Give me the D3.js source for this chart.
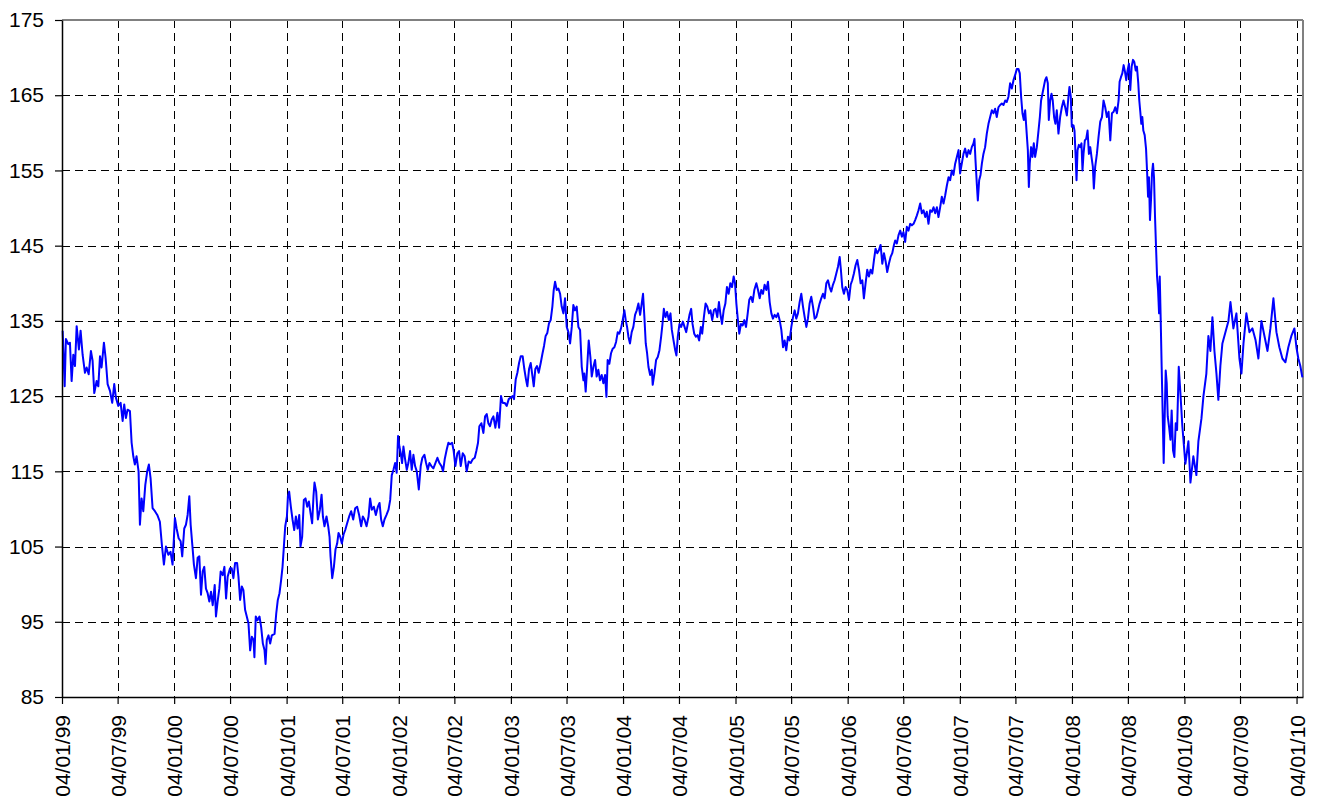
<!DOCTYPE html>
<html>
<head>
<meta charset="utf-8">
<script src="https://cdn.jsdelivr.net/npm/d3@7/dist/d3.min.js"></script>
<style>
  html, body { margin: 0; padding: 0; background: #ffffff; }
  svg { display: block; }
  text { font-family: "Liberation Sans", Arial, sans-serif; }
</style>
</head>
<body>
<svg id="chart" width="1317" height="805"></svg>
<script>
// ---- DATA (decimal years) ----
const timePoints = [
1999.014,1999.032,1999.043,1999.064,1999.079,1999.094,1999.109,1999.124,1999.139,1999.159,1999.174,1999.192,1999.213,1999.228,1999.246,1999.266,1999.281,1999.296,1999.317,1999.332,1999.347,1999.361,1999.382,1999.397,1999.415,1999.436,1999.456,1999.474,1999.489,1999.510,1999.531,1999.549,1999.563,1999.578,1999.593,1999.614,1999.629,1999.644,1999.658,1999.673,1999.691,1999.703,1999.718,1999.733,1999.751,1999.768,1999.783,1999.798,1999.816,1999.837,1999.858,1999.881,1999.899,1999.917,1999.935,1999.956,1999.976,1999.994,
2000.015,2000.030,2000.048,2000.066,2000.080,2000.098,2000.113,2000.128,2000.143,2000.155,2000.170,2000.184,2000.202,2000.217,2000.232,2000.247,2000.262,2000.276,2000.291,2000.306,2000.321,2000.336,2000.351,2000.369,2000.380,2000.395,2000.410,2000.422,2000.440,2000.455,2000.470,2000.484,2000.505,2000.520,2000.535,
2000.550,2000.568,2000.580,2000.595,2000.610,2000.624,2000.639,2000.654,2000.669,2000.684,2000.699,2000.714,2000.722,2000.734,2000.749,2000.767,2000.782,2000.797,2000.812,2000.821,2000.832,2000.847,2000.862,2000.877,2000.901,2000.916,2000.930,2000.945,2000.960,2000.972,2000.984,2000.996,
2001.011,2001.020,2001.031,2001.046,2001.061,2001.076,2001.091,2001.106,2001.121,2001.132,2001.147,2001.162,2001.177,2001.192,2001.207,2001.222,2001.236,2001.248,2001.257,2001.272,2001.287,2001.305,2001.320,2001.332,2001.346,2001.364,2001.379,2001.391,2001.400,2001.415,2001.430,2001.444,2001.459,2001.471,2001.486,2001.501,2001.516,2001.531,2001.548,2001.566,2001.584,2001.602,2001.620,2001.637,2001.655,2001.673,2001.688,2001.703,2001.721,2001.739,2001.753,2001.768,2001.786,2001.804,2001.822,2001.837,2001.851,2001.866,2001.881,2001.899,2001.917,2001.932,
2001.946,2001.961,2001.976,2001.990,2002.002,2002.014,2002.026,2002.038,2002.050,2002.065,2002.080,2002.094,2002.109,2002.124,2002.139,2002.154,2002.169,2002.187,2002.204,2002.219,2002.237,2002.252,2002.267,2002.282,2002.299,2002.317,2002.335,2002.353,2002.371,2002.389,2002.403,2002.418,2002.436,2002.451,2002.466,2002.484,2002.498,2002.513,2002.531,2002.546,2002.561,2002.579,2002.596,2002.614,2002.632,2002.650,2002.668,2002.686,2002.700,2002.715,2002.727,2002.745,2002.763,2002.778,2002.793,2002.807,2002.822,2002.837,2002.852,2002.870,2002.888,2002.903,2002.920,2002.935,2002.953,2002.971,2002.989,
2003.006,2003.024,2003.036,2003.051,2003.066,2003.081,2003.096,2003.113,2003.128,2003.143,2003.155,2003.170,2003.185,2003.200,2003.212,2003.226,2003.241,2003.256,2003.274,2003.289,2003.304,2003.318,2003.333,2003.348,2003.363,2003.378,2003.390,2003.402,
2003.417,2003.432,2003.447,2003.461,2003.476,2003.491,2003.506,2003.521,2003.536,2003.551,2003.565,2003.580,2003.595,2003.610,2003.625,2003.640,2003.655,2003.663,2003.675,2003.690,2003.702,2003.717,2003.729,2003.744,2003.759,2003.773,2003.788,2003.803,2003.818,2003.833,2003.848,2003.860,2003.871,2003.886,2003.901,2003.916,2003.931,2003.946,2003.961,2003.975,2003.990,
2004.005,2004.020,2004.032,2004.044,2004.056,2004.070,2004.085,2004.100,2004.115,2004.130,2004.145,2004.160,2004.174,2004.186,2004.198,2004.210,2004.222,2004.234,2004.249,2004.264,2004.272,2004.287,2004.302,2004.317,2004.332,2004.347,2004.359,2004.371,2004.385,2004.400,2004.415,2004.430,2004.442,2004.457,2004.472,2004.483,2004.495,2004.510,2004.525,2004.540,2004.555,2004.570,2004.584,2004.599,2004.614,2004.626,2004.641,2004.656,2004.671,2004.685,2004.700,2004.712,2004.727,2004.742,2004.757,2004.772,2004.786,2004.801,2004.816,2004.831,2004.846,2004.861,
2004.873,2004.888,2004.903,2004.918,2004.932,2004.947,2004.962,2004.977,2004.992,2005.004,2005.016,2005.027,2005.042,2005.057,2005.072,2005.087,2005.102,2005.117,2005.131,2005.146,2005.161,2005.176,2005.194,2005.209,2005.224,2005.238,2005.253,2005.268,2005.283,2005.298,2005.313,2005.328,2005.342,2005.357,2005.372,2005.387,2005.402,2005.417,2005.432,2005.446,2005.461,2005.476,2005.491,2005.506,2005.521,2005.536,2005.550,2005.565,2005.580,2005.595,2005.610,2005.625,2005.640,2005.654,2005.669,2005.684,2005.699,2005.714,2005.729,2005.744,2005.758,2005.773,2005.788,2005.803,2005.818,2005.833,2005.847,2005.862,2005.877,2005.892,2005.907,2005.922,2005.937,2005.948,2005.960,2005.975,2005.990,
2006.005,2006.020,2006.035,2006.049,2006.064,2006.079,2006.094,2006.109,2006.124,2006.139,2006.153,2006.168,2006.183,2006.198,2006.213,2006.228,2006.243,2006.257,2006.272,2006.287,2006.302,2006.317,2006.332,2006.347,2006.361,2006.376,2006.391,2006.406,2006.421,
2006.432,2006.447,2006.462,2006.477,2006.492,2006.506,2006.521,2006.536,2006.551,2006.566,2006.581,2006.596,2006.610,2006.625,2006.640,2006.655,2006.670,2006.685,2006.700,2006.714,2006.729,2006.744,2006.759,2006.774,2006.789,2006.804,2006.818,2006.833,2006.848,2006.863,2006.878,2006.893,2006.908,2006.922,2006.937,2006.952,2006.967,2006.982,2006.997,
2007.011,2007.026,2007.041,2007.056,2007.071,2007.086,2007.101,2007.115,2007.130,2007.139,2007.148,2007.160,2007.169,2007.181,2007.193,2007.205,2007.219,2007.234,2007.249,2007.264,2007.279,2007.294,2007.309,2007.323,2007.338,2007.353,2007.368,2007.383,2007.398,2007.413,2007.427,2007.442,2007.457,2007.472,2007.487,2007.502,2007.517,2007.531,2007.543,2007.555,2007.567,2007.579,2007.591,2007.603,2007.615,2007.624,2007.632,2007.644,2007.656,2007.668,2007.680,2007.695,2007.710,2007.722,2007.733,2007.745,2007.757,2007.769,2007.781,2007.793,2007.802,2007.814,2007.826,2007.837,2007.849,2007.861,2007.873,2007.888,2007.903,
2007.918,2007.933,2007.948,2007.963,2007.977,2007.986,2007.998,2008.007,2008.022,2008.031,2008.040,2008.049,2008.058,2008.070,2008.081,2008.093,2008.102,2008.111,2008.123,2008.135,2008.147,2008.159,2008.171,2008.182,2008.194,2008.203,2008.215,2008.230,2008.245,2008.260,2008.275,2008.289,2008.304,2008.319,2008.334,2008.349,2008.364,2008.379,2008.393,2008.408,2008.423,2008.432,2008.444,2008.456,2008.468,2008.480,2008.491,2008.503,2008.515,2008.527,2008.539,2008.551,2008.563,2008.575,2008.586,2008.598,2008.607,2008.616,2008.625,2008.634,2008.643,2008.655,2008.667,2008.676,2008.685,2008.693,2008.702,2008.711,2008.720,2008.729,2008.738,2008.747,2008.756,2008.765,2008.774,2008.783,2008.789,2008.797,2008.806,2008.815,2008.824,2008.833,2008.842,2008.851,2008.860,2008.872,2008.884,2008.895,2008.907,2008.919,2008.931,2008.943,2008.958,2008.973,
2008.990,2009.017,2009.044,2009.062,2009.088,2009.115,2009.133,2009.160,2009.178,2009.204,2009.222,2009.240,2009.258,2009.276,2009.294,2009.311,2009.329,2009.347,2009.374,2009.401,2009.419,2009.445,2009.472,2009.499,2009.517,2009.535,2009.561,2009.588,2009.615,2009.642,2009.668,2009.695,2009.722,2009.749,2009.775,2009.802,2009.829,2009.855,2009.882,2009.909,2009.935,2009.962,2009.989,2010.007,2010.024,2010.042,2010.060
];

const values = [
133.7,126.3,132.6,131.9,132.1,127.0,130.5,129.0,134.3,131.2,133.7,130.5,128.1,128.8,127.9,131.0,129.7,125.4,127.0,126.3,130.3,128.8,132.1,130.1,126.6,125.7,124.1,126.6,124.8,123.7,124.1,121.7,123.9,122.1,123.2,123.0,118.8,117.0,115.9,117.0,115.0,107.9,111.4,109.7,113.2,115.0,115.9,114.1,110.1,109.7,109.2,108.3,105.2,102.6,105.0,103.9,104.3,102.6,
108.8,107.4,106.1,105.7,103.7,107.4,107.9,109.2,111.7,107.9,105.2,102.6,100.8,103.5,103.7,98.6,101.7,102.3,99.4,98.8,97.7,99.0,97.2,99.9,95.7,97.7,99.4,101.7,101.2,102.3,98.1,101.0,102.1,102.1,100.8,
102.8,102.8,101.0,97.9,99.7,99.2,96.6,95.7,94.8,91.2,93.0,92.6,90.3,95.7,95.2,95.7,94.3,92.1,91.2,89.4,92.6,93.2,92.1,93.2,93.4,96.1,97.9,98.8,100.6,102.3,105.0,107.7,
109.0,111.7,112.3,110.3,108.6,107.2,109.0,107.4,109.2,105.0,106.3,111.2,111.4,110.3,111.0,109.4,108.1,111.7,113.5,112.3,108.6,109.9,111.9,109.0,107.7,109.0,107.7,106.3,103.7,100.8,102.3,104.6,105.4,106.8,106.3,105.4,106.6,107.2,108.1,109.0,109.7,108.6,110.1,110.3,109.2,107.7,109.0,108.6,107.7,109.0,111.4,109.9,110.3,109.2,110.3,110.8,108.6,107.7,108.6,109.2,109.9,111.2,
114.5,115.2,116.1,114.8,119.7,118.3,117.4,116.1,118.3,116.6,115.2,116.1,117.7,115.2,117.2,115.7,115.0,112.6,115.7,116.8,117.2,116.1,115.2,116.1,115.7,115.4,116.1,116.8,116.1,115.7,115.0,116.6,117.9,118.8,118.6,118.8,117.7,115.7,117.4,117.7,115.7,117.4,117.0,115.0,116.3,116.1,116.6,116.8,117.7,118.8,121.0,121.4,120.1,122.3,122.6,121.4,121.0,121.9,122.3,120.8,122.8,120.8,125.0,124.1,124.1,123.7,124.6,
124.8,125.0,124.6,127.2,128.1,129.4,130.3,130.3,128.6,127.2,126.3,128.6,129.4,127.7,126.3,128.6,129.0,128.1,129.4,130.6,131.7,133.0,133.4,134.7,135.1,136.9,139.1,140.2,
139.1,139.3,138.6,136.9,136.0,138.0,134.2,133.5,132.0,134.2,137.1,136.4,136.9,134.2,133.8,128.9,127.1,128.0,125.6,129.3,132.4,130.2,127.6,128.9,129.8,127.6,128.5,127.1,127.8,126.7,127.8,124.9,129.8,129.3,130.7,131.3,131.5,132.2,133.5,133.3,134.0,
135.1,136.4,135.1,134.2,132.9,132.0,133.5,134.2,135.8,136.4,137.3,135.8,137.3,138.6,135.5,132.0,130.7,128.9,127.8,128.5,126.5,128.0,129.8,130.2,131.1,132.9,134.6,136.6,135.5,136.2,135.1,136.0,133.8,132.4,131.1,130.4,132.9,134.6,134.2,134.9,134.2,133.5,134.6,135.8,136.6,134.6,133.3,132.9,133.1,132.4,134.2,133.3,135.5,137.3,136.9,136.0,136.4,135.1,136.4,136.6,135.5,137.5,
136.0,134.6,136.4,137.3,139.5,138.6,140.0,139.5,140.9,140.0,137.3,135.5,133.3,134.6,134.4,135.1,134.2,136.0,137.8,138.2,137.5,139.1,140.0,139.1,138.0,139.1,138.6,139.8,139.1,140.2,137.5,136.0,135.3,135.8,135.5,136.0,135.1,133.8,131.5,132.4,131.1,132.9,132.4,134.2,135.5,136.4,135.3,136.0,137.5,138.6,136.9,135.5,134.2,135.3,137.3,138.2,136.9,135.3,135.5,136.4,137.3,138.0,138.6,138.0,140.0,140.4,139.5,138.9,139.8,140.4,141.3,142.2,143.5,141.8,139.5,138.6,139.5,
139.1,137.8,139.8,140.4,141.3,142.4,143.1,141.8,140.0,140.4,138.0,140.0,141.8,140.9,141.8,141.3,143.1,144.6,144.0,144.4,145.1,142.6,144.0,142.9,141.5,142.6,143.5,144.0,145.1,
145.7,145.3,146.4,147.0,146.2,146.8,145.5,147.5,147.0,147.9,147.7,147.9,148.4,149.0,149.7,150.6,149.3,149.7,148.8,149.5,147.9,149.7,149.5,150.1,149.3,150.1,148.8,150.1,151.5,150.6,151.7,153.0,154.1,153.7,155.0,154.4,155.9,156.8,157.7,
154.6,155.9,157.2,157.9,156.8,157.7,157.2,158.1,158.6,159.2,156.4,153.2,151.0,153.7,154.4,155.9,157.2,158.1,159.9,161.2,162.1,163.0,162.6,163.2,162.1,163.4,163.7,163.9,163.7,164.3,164.1,164.8,166.6,165.9,167.0,167.7,168.5,168.5,167.9,164.8,162.6,161.7,163.0,160.3,157.7,152.8,155.9,158.1,156.8,158.6,156.8,158.1,160.3,162.1,164.3,165.2,166.1,167.0,167.4,166.6,161.7,164.3,165.2,164.3,162.1,161.2,163.0,159.9,162.1,
163.4,164.3,163.4,162.3,164.8,166.1,164.8,160.8,161.0,160.3,157.2,153.7,157.7,158.4,158.1,158.6,155.0,157.2,159.0,159.2,160.3,157.2,158.1,156.8,155.5,152.6,155.5,157.2,159.5,161.5,162.1,164.3,163.4,162.1,162.8,159.0,162.6,162.8,163.4,162.6,164.3,166.8,167.4,167.9,169.0,168.1,167.0,168.3,169.2,165.7,168.8,169.7,169.4,168.3,168.8,166.6,164.3,162.8,161.2,162.1,160.3,159.7,157.9,155.0,151.5,154.1,148.4,151.0,154.6,155.9,154.1,148.8,144.8,140.9,139.1,136.0,140.9,135.5,128.9,122.7,116.1,122.3,128.4,126.7,122.3,120.9,119.2,123.1,117.8,116.9,121.4,120.5,128.9,125.3,
121.0,116.0,119.0,113.5,117.0,114.5,119.0,122.0,125.0,128.0,133.0,131.0,135.5,131.0,128.0,124.5,129.0,132.0,133.5,135.0,137.5,134.0,136.0,130.0,128.0,132.0,136.0,133.5,134.0,132.5,130.0,135.0,133.0,131.0,134.0,138.0,133.5,131.5,130.0,129.5,131.5,133.0,134.0,131.5,130.0,129.0,127.5
];

const xTickLabels = ["04/01/99","04/07/99","04/01/00","04/07/00","04/01/01","04/07/01","04/01/02","04/07/02","04/01/03","04/07/03","04/01/04","04/07/04","04/01/05","04/07/05","04/01/06","04/07/06","04/01/07","04/07/07","04/01/08","04/07/08","04/01/09","04/07/09","04/01/10"];
const yTicks = [85, 95, 105, 115, 125, 135, 145, 155, 165, 175];
const xDomain = ["04/01/99", "25/01/10"];
const yDomain = [85, 175];

// ---- CHART ----
const W = 1317, H = 805;
const margin = { left: 62, top: 20, right: 14, bottom: 108 };
const innerW = W - margin.left - margin.right;
const innerH = H - margin.top - margin.bottom;
const FONT = '"Liberation Sans", Arial, sans-serif';

const parse = d3.utcParse("%d/%m/%y");
function fromDecimal(y) {
  const yr = Math.floor(y);
  const s = Date.UTC(yr, 0, 1), e = Date.UTC(yr + 1, 0, 1);
  return new Date(s + (y - yr) * (e - s));
}
const data = timePoints.map((t, i) => ({ date: fromDecimal(t), value: values[i] }));
const tickDates = xTickLabels.map(parse);

const x = d3.scaleUtc().domain(xDomain.map(parse)).range([0, innerW]);
const y = d3.scaleLinear().domain(yDomain).range([innerH, 0]);

const svg = d3.select("#chart");
svg.append("rect").attr("width", W).attr("height", H).attr("fill", "#fff");
const g = svg.append("g").attr("transform", `translate(${margin.left},${margin.top})`);

// horizontal grid
g.append("g").selectAll("line")
  .data(yTicks.filter(v => v !== yDomain[0] && v !== yDomain[1]))
  .join("line")
  .attr("x1", 0).attr("x2", innerW)
  .attr("y1", d => Math.round(y(d)) + 0.5).attr("y2", d => Math.round(y(d)) + 0.5)
  .attr("stroke", "#000").attr("stroke-width", 1).attr("stroke-dasharray", "8,5");

// vertical grid
g.append("g").selectAll("line")
  .data(tickDates.slice(1))
  .join("line")
  .attr("x1", d => Math.round(x(d)) + 0.5).attr("x2", d => Math.round(x(d)) + 0.5)
  .attr("y1", 0).attr("y2", innerH)
  .attr("stroke", "#000").attr("stroke-width", 1).attr("stroke-dasharray", "8,5");

// frame (top & right, grey)
g.append("line").attr("x1", 0).attr("x2", innerW).attr("y1", 0).attr("y2", 0)
  .attr("stroke", "#808080").attr("stroke-width", 2);
g.append("line").attr("x1", innerW).attr("x2", innerW).attr("y1", 0).attr("y2", innerH)
  .attr("stroke", "#808080").attr("stroke-width", 2);

// data line
const line = d3.line().x(d => x(d.date)).y(d => y(d.value));
g.append("path").datum(data)
  .attr("fill", "none").attr("stroke", "#0000ff").attr("stroke-width", 2)
  .attr("stroke-linejoin", "round").attr("d", line);

// y axis
const yAxis = g.append("g")
  .call(d3.axisLeft(y).tickValues(yTicks).tickSize(7).tickPadding(11).tickSizeOuter(0));
yAxis.select(".domain").attr("stroke", "#000").attr("stroke-width", 1.5);
yAxis.selectAll(".tick line").attr("stroke", "#000").attr("stroke-width", 1.2);
yAxis.selectAll("text").attr("font-size", 21).attr("fill", "#000").style("font-family", FONT);

// x axis
const xAxis = g.append("g").attr("transform", `translate(0,${innerH})`)
  .call(d3.axisBottom(x).tickValues(tickDates).tickSize(7).tickSizeOuter(0)
    .tickFormat((d, i) => xTickLabels[i]));
xAxis.select(".domain").attr("stroke", "#000").attr("stroke-width", 1.5);
xAxis.selectAll(".tick line").attr("stroke", "#000").attr("stroke-width", 1.2);
xAxis.selectAll("text")
  .attr("font-size", 21).attr("fill", "#000").style("font-family", FONT)
  .attr("text-anchor", "end")
  .attr("transform", "rotate(-90)")
  .attr("x", -18).attr("y", 0).attr("dy", "0.36em");
</script>
</body>
</html>
